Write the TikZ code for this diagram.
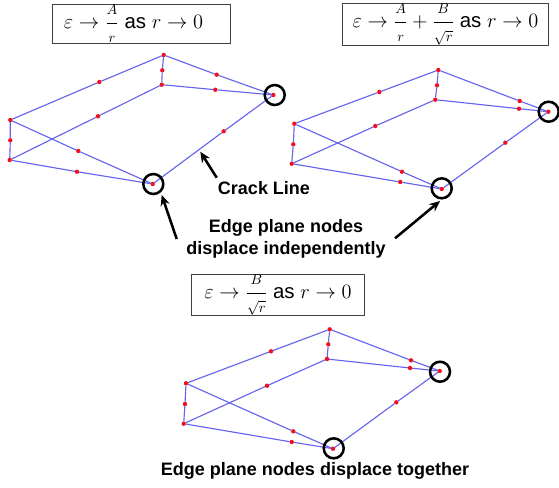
\RequirePackage{fix-cm}
\documentclass[tikz,border=0pt]{standalone}
\usepackage{amsmath}
\usepackage[no-math]{fontspec}
\setmainfont{Liberation Sans}
\usetikzlibrary{arrows.meta, positioning}
\definecolor{cmesh}{HTML}{6464EE}
\definecolor{cnode}{HTML}{F01020}
\definecolor{cframe}{HTML}{404040}
\tikzset{
  every picture/.style={x=0.75pt, y=-0.75pt},
  rnode/.style={circle, fill=cnode, inner sep=0pt, outer sep=0pt, minimum size=3.3pt},
  ring/.style={circle, draw=black, line width=1.9pt, inner sep=0pt, minimum size=15pt},
  edgeline/.style={draw=cmesh, line width=0.85pt},
  eqbox/.style={draw=cframe, fill=white, line width=0.7pt, inner sep=0pt, font=\fontsize{15.3}{18}\selectfont},
  pointer/.style={-{Stealth[length=8pt, width=7pt]}, draw=black, line width=1.9pt},
  lbl/.style={font=\fontsize{13.5}{16.5}\selectfont\bfseries, align=center, inner sep=0pt},
}
\newcommand{\sfrac}[2]{\dfrac{\scriptstyle #1}{\scriptstyle #2}}
\begin{document}
\begin{tikzpicture}
  \useasboundingbox (0,0) rectangle (559,487);
  \newcommand{\meshedges}[1]{
    \draw[edgeline] (#1lt) -- (#1a) -- (#1top) -- (#1b) -- (#1mid);
    \draw[edgeline] (#1top) -- (#1c) -- (#1rt);
    \draw[edgeline] (#1mid) -- (#1d) -- (#1rt);
    \draw[edgeline] (#1mid) -- (#1e) -- (#1lb);
    \draw[edgeline] (#1lt) -- (#1f) -- (#1lb);
    \draw[edgeline] (#1lt) -- (#1g) -- (#1bot);
    \draw[edgeline] (#1lb) -- (#1h) -- (#1bot);
    \draw[edgeline] (#1bot) -- (#1i) -- (#1rt);
  }

  \node[eqbox, minimum width=133.8pt, minimum height=29pt] (eqA) at (141.5,24) {$\varepsilon\rightarrow\sfrac{A}{r}$ as $r\rightarrow0$\hspace*{12pt}};
  \node[eqbox, minimum width=154.2pt, minimum height=31.2pt] (eqAB) at (445.5,24.5) {$\varepsilon\rightarrow\sfrac{A}{r}+\sfrac{B}{\sqrt{r}}$ as $r\rightarrow0$};
  \node[eqbox, minimum width=129.5pt, minimum height=30.8pt] (eqB) at (278,295.2) {$\varepsilon\rightarrow\sfrac{B}{\sqrt{r}}$ as $r\rightarrow0$};

  % left mesh
  \node[rnode] (ptop) at (163.7,55)   {};
  \node[rnode] (pmid) at (161.7,84.7) {};
  \node[rnode] (prt)  at (273.3,95)   {};
  \node[rnode] (plt)  at (10.3,120)   {};
  \node[rnode] (plb)  at (9.7,160)    {};
  \node[rnode] (pbot) at (152.7,184)  {};
  \node[rnode] (pa)   at (99.3,82)    {};
  \node[rnode] (pb)   at (162.3,70.3) {};
  \node[rnode] (pc)   at (216.7,74.7) {};
  \node[rnode] (pd)   at (215.3,89.7) {};
  \node[rnode] (pe)   at (98,116.3)   {};
  \node[rnode] (pf)   at (10.3,140.3) {};
  \node[rnode] (pg)   at (78.3,151)   {};
  \node[rnode] (ph)   at (77,171.7)   {};
  \node[rnode] (pi)   at (223.7,131.3) {};
  \meshedges{p}
  \node[ring] (pringrt)  at (274.7,95)  {};
  \node[ring] (pringbot) at (153.3,184) {};

  % right mesh
  \node[rnode] (qtop) at (438.3,70)   {};
  \node[rnode] (qmid) at (435.3,99.7) {};
  \node[rnode] (qrt)  at (548.3,111.7) {};
  \node[rnode] (qlt)  at (294.3,123.7) {};
  \node[rnode] (qlb)  at (291.7,163.7) {};
  \node[rnode] (qbot) at (441.7,189)  {};
  \node[rnode] (qa)   at (379.3,92)   {};
  \node[rnode] (qb)   at (437,85.3)   {};
  \node[rnode] (qc)   at (519.7,101)  {};
  \node[rnode] (qd)   at (519,108.7)  {};
  \node[rnode] (qe)   at (375.3,126)  {};
  \node[rnode] (qf)   at (293.3,144.3) {};
  \node[rnode] (qg)   at (402,171.7)  {};
  \node[rnode] (qh)   at (400.3,182)  {};
  \node[rnode] (qi)   at (505.3,142.7) {};
  \meshedges{q}
  \node[ring] (qringrt)  at (548.7,111.7) {};
  \node[ring] (qringbot) at (441.7,188.3) {};

  % lower mesh
  \node[rnode] (stop) at (329.7,329.3) {};
  \node[rnode] (smid) at (327,359)    {};
  \node[rnode] (srt)  at (439.7,371)  {};
  \node[rnode] (slt)  at (186,383.3)  {};
  \node[rnode] (slb)  at (183.7,423.7) {};
  \node[rnode] (sbot) at (333,448.7)  {};
  \node[rnode] (sa)   at (271,351.3)  {};
  \node[rnode] (sb)   at (328.3,344.3) {};
  \node[rnode] (sc)   at (411,360.3)  {};
  \node[rnode] (sd)   at (410,368)    {};
  \node[rnode] (se)   at (267,385.7)  {};
  \node[rnode] (sf)   at (185,404)    {};
  \node[rnode] (sg)   at (293.3,431.3) {};
  \node[rnode] (sh)   at (291.7,442)  {};
  \node[rnode] (si)   at (396.3,402.3) {};
  \meshedges{s}
  \node[ring] (sringrt)  at (440,371.7)  {};
  \node[ring] (sringbot) at (333.7,448.3) {};

  % labels
  \node[lbl] (crack) at (264,188)  {Crack Line};
  \node[lbl] (indep) at (286,239)  {Edge plane nodes\\displace independently};
  \node[lbl] (toget) at (315,471)  {Edge plane nodes displace together};

  % pointers
  \coordinate (crackfrom) at (216.7,177.7);
  \coordinate (cracktip)  at (200.3,151.7);
  \coordinate (indepL)    at (176.7,239);
  \coordinate (indepLtip) at (161.7,195);
  \coordinate (indepR)    at (395,238.3);
  \coordinate (indepRtip) at (440,201);
  \draw[pointer] (crackfrom) -- (cracktip);
  \draw[pointer] (indepL) -- (indepLtip);
  \draw[pointer] (indepR) -- (indepRtip);
\end{tikzpicture}
\end{document}
